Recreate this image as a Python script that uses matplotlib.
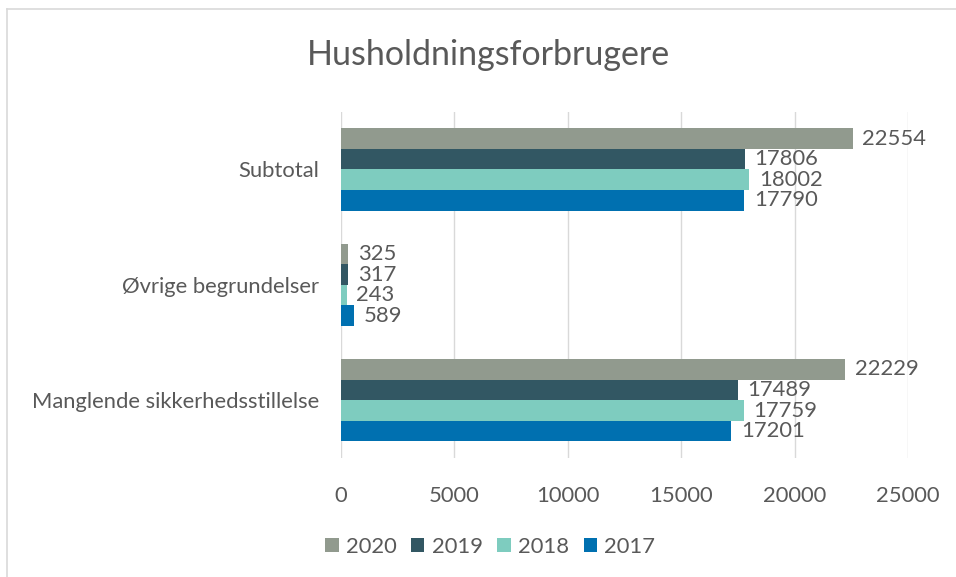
import numpy as np
import matplotlib.pyplot as plt
from matplotlib.lines import Line2D

plt.rcParams['font.family'] = ['Lato', 'DejaVu Sans']

categories = ["Manglende sikkerhedsstillelse", "Øvrige begrundelser", "Subtotal"]
years = ["2017", "2018", "2019", "2020"]
values = {
    "2017": [17201, 589, 17790],
    "2018": [17759, 243, 18002],
    "2019": [17489, 317, 17806],
    "2020": [22229, 325, 22554],
}
colors = {"2017": "#0070B0", "2018": "#7ECCBF", "2019": "#325763", "2020": "#919A8E"}

txt = "#595959"
fs = 15.8
fig = plt.figure(figsize=(9.56, 5.77), dpi=100)
ax = fig.add_axes([0.3567, 0.2063, 0.5931, 0.6000])

y = np.arange(len(categories))
h = 0.178
for i, yr in enumerate(years):
    off = (i - 1.5) * h
    bars = ax.barh(y + off, values[yr], height=h, color=colors[yr], label=yr, zorder=3)
    for b, v in zip(bars, values[yr]):
        ax.annotate(str(v), (b.get_width(), b.get_y() + b.get_height() / 2),
                    xytext=(7, 0), textcoords="offset points",
                    ha="left", va="center", fontsize=fs, color=txt)

ax.set_xlim(0, 25000)
ax.set_ylim(-0.5, 2.5)
ax.set_xticks(np.arange(0, 25001, 5000))
ax.set_yticks(y)
ax.set_yticklabels(categories)
ax.tick_params(axis="both", length=0, labelsize=fs, colors=txt)
ax.tick_params(axis="x", pad=20)
ax.tick_params(axis="y", pad=16)
ax.grid(axis="x", color="#D9D9D9", linewidth=1, zorder=0)
for s in ax.spines.values():
    s.set_visible(False)

fig.text(0.511, 0.905, "Husholdningsforbrugere", ha="center", va="center",
         fontsize=24.5, color=txt)

handles, labels = ax.get_legend_handles_labels()
order = [3, 2, 1, 0]
fig.legend([handles[k] for k in order], [labels[k] for k in order],
           loc="center", bbox_to_anchor=(0.513, 0.052), ncol=4, frameon=False,
           fontsize=fs, handlelength=0.6, handleheight=0.6, handletextpad=0.35,
           columnspacing=0.65, labelcolor=txt)

# chart border (left and top edges visible)
fig.add_artist(Line2D([0.0073, 0.0073], [0.0, 0.984], color="#D9D9D9", lw=1.2,
                      transform=fig.transFigure))
fig.add_artist(Line2D([0.0073, 1.0], [0.984, 0.984], color="#D9D9D9", lw=1.2,
                      transform=fig.transFigure))

fig.savefig("out.png", dpi=100)
